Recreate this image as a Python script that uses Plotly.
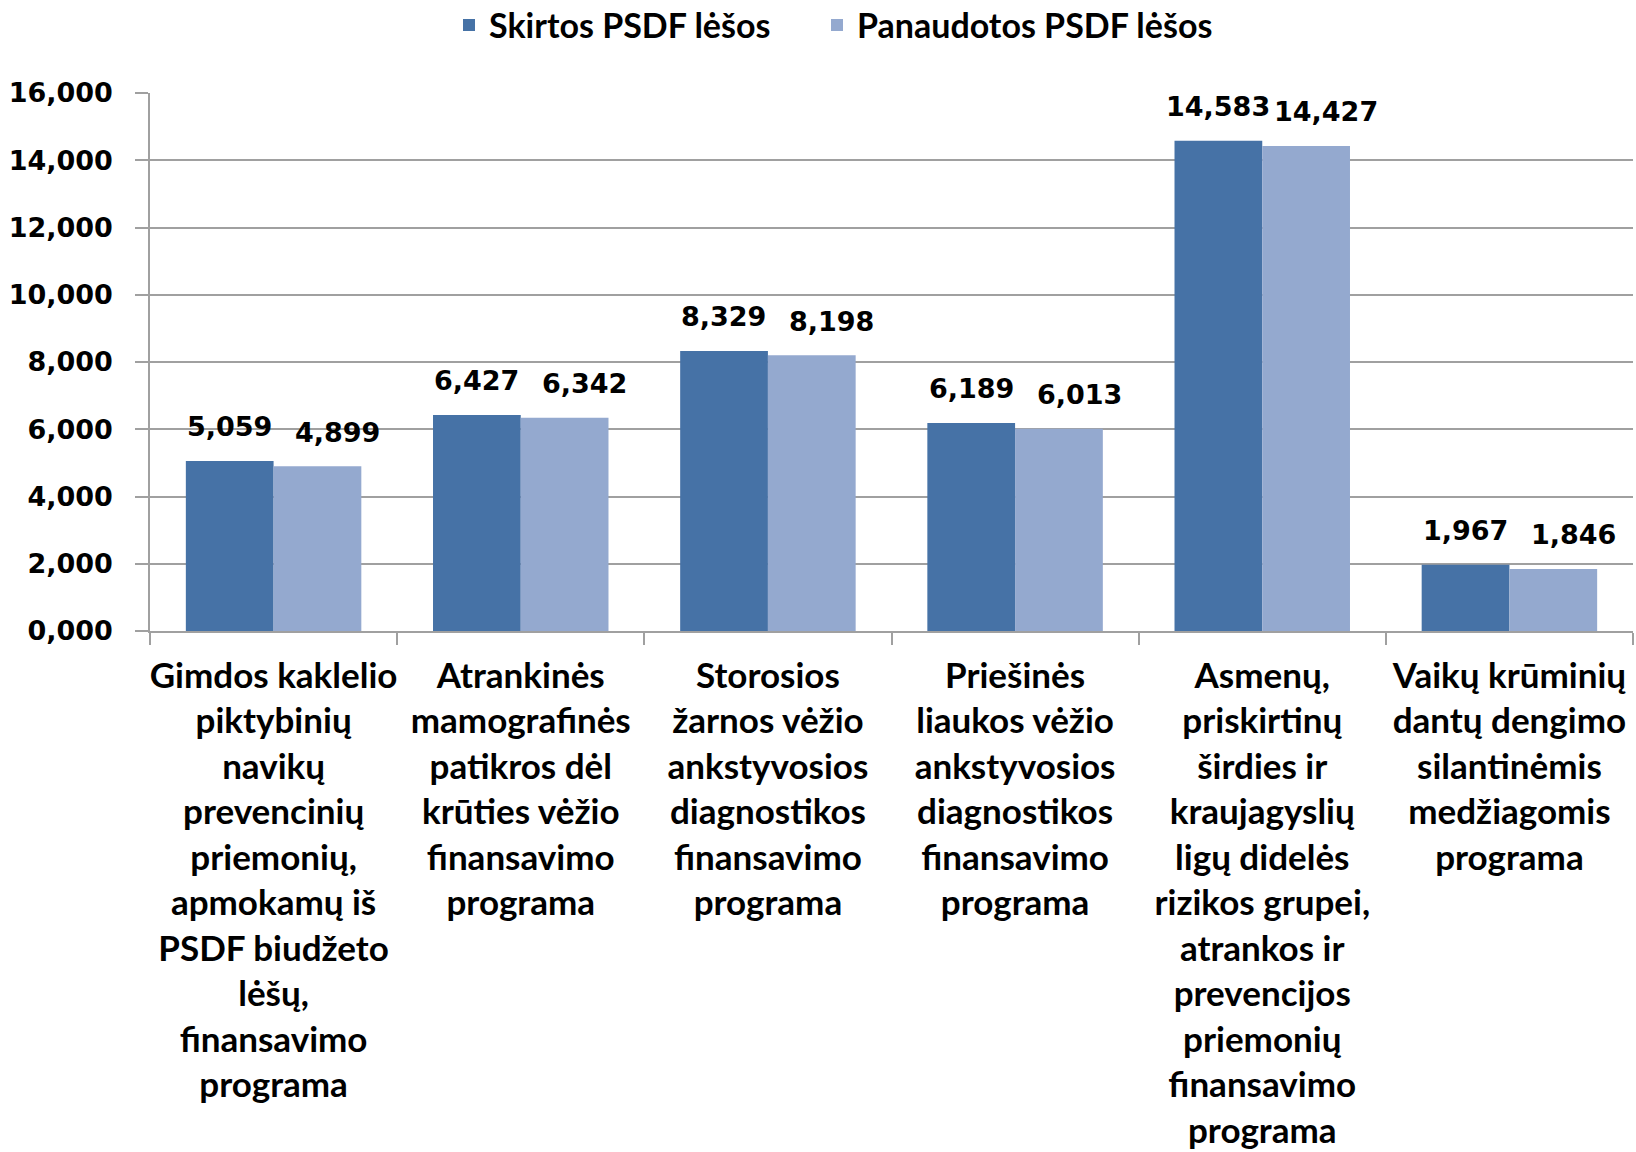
import plotly.graph_objects as go

categories = [
    "Gimdos kaklelio<br>piktybinių<br>navikų<br>prevencinių<br>priemonių,<br>apmokamų iš<br>PSDF biudžeto<br>lėšų,<br>finansavimo<br>programa",
    "Atrankinės<br>mamografinės<br>patikros dėl<br>krūties vėžio<br>finansavimo<br>programa",
    "Storosios<br>žarnos vėžio<br>ankstyvosios<br>diagnostikos<br>finansavimo<br>programa",
    "Priešinės<br>liaukos vėžio<br>ankstyvosios<br>diagnostikos<br>finansavimo<br>programa",
    "Asmenų,<br>priskirtinų<br>širdies ir<br>kraujagyslių<br>ligų didelės<br>rizikos grupei,<br>atrankos ir<br>prevencijos<br>priemonių<br>finansavimo<br>programa",
    "Vaikų krūminių<br>dantų dengimo<br>silantinėmis<br>medžiagomis<br>programa",
]
cat_ids = ["c1", "c2", "c3", "c4", "c5", "c6"]
skirtos = [5.059, 6.427, 8.329, 6.189, 14.583, 1.967]
panaudotos = [4.899, 6.342, 8.198, 6.013, 14.427, 1.846]
series_names = ["Skirtos PSDF lėšos", "Panaudotos PSDF lėšos"]
colors = ["#4672A6", "#94A9CF"]
legend_ids = ["legend", "legend2"]

label_font = dict(family="DejaVu Sans", size=27, color="#000000", weight="bold")
label_xshift = [-44, 64]

fig = go.Figure()
for name, vals, col, lg in zip(series_names, [skirtos, panaudotos], colors, legend_ids):
    fig.add_trace(go.Bar(
        x=cat_ids, y=vals, name=name, legend=lg, showlegend=True,
        marker=dict(color=col, line=dict(width=0)),
    ))

annotations = []
for vals, xs in zip([skirtos, panaudotos], label_xshift):
    for c, v in zip(cat_ids, vals):
        annotations.append(dict(
            x=c, y=v, xref="x", yref="y", text=f"{v:.3f}".replace(".", ","),
            showarrow=False, xanchor="center", yanchor="middle",
            xshift=xs, yshift=34, font=label_font,
        ))

legend_font = dict(family="Lato", size=34, color="#000000", weight="bold")
fig.update_layout(
    width=1636, height=1152, showlegend=True,
    paper_bgcolor="white", plot_bgcolor="white",
    margin=dict(l=150, r=3, t=93, b=521, autoexpand=False),
    barmode="group", bargap=0.29, bargroupgap=0,
    separators=",.",
    legend=dict(orientation="h", xref="container", x=449 / 1636, xanchor="left",
                yref="container", y=1 - 25.5 / 1152, yanchor="middle",
                font=legend_font, itemwidth=30),
    legend2=dict(orientation="h", xref="container", x=817 / 1636, xanchor="left",
                 yref="container", y=1 - 25.5 / 1152, yanchor="middle",
                 font=legend_font, itemwidth=30),
    annotations=annotations,
)

fig.update_yaxes(
    range=[0, 16], dtick=2, tickformat=".3f",
    showgrid=True, gridcolor="#A0A0A0", gridwidth=1.5,
    showline=True, linecolor="#A0A0A0", linewidth=1.5,
    ticks="outside", ticklen=13, tickcolor="#A0A0A0", tickwidth=1.5,
    tickfont=dict(family="DejaVu Sans", size=27, color="#000000", weight="bold"),
    ticklabelstandoff=17, zeroline=False,
)
fig.update_xaxes(
    tickmode="array", tickvals=cat_ids, ticktext=categories,
    showline=True, linecolor="#A0A0A0", linewidth=1.5,
    ticks="outside", ticklen=12, tickcolor="#A0A0A0", tickwidth=1.5,
    tickson="boundaries",
    tickfont=dict(family="Lato", size=35, color="#000000", weight="bold"),
    ticklabelstandoff=13, tickangle=0,
)

fig.write_html("out.html", config={"displayModeBar": False},
               post_script="document.body.style.margin='0px';")
